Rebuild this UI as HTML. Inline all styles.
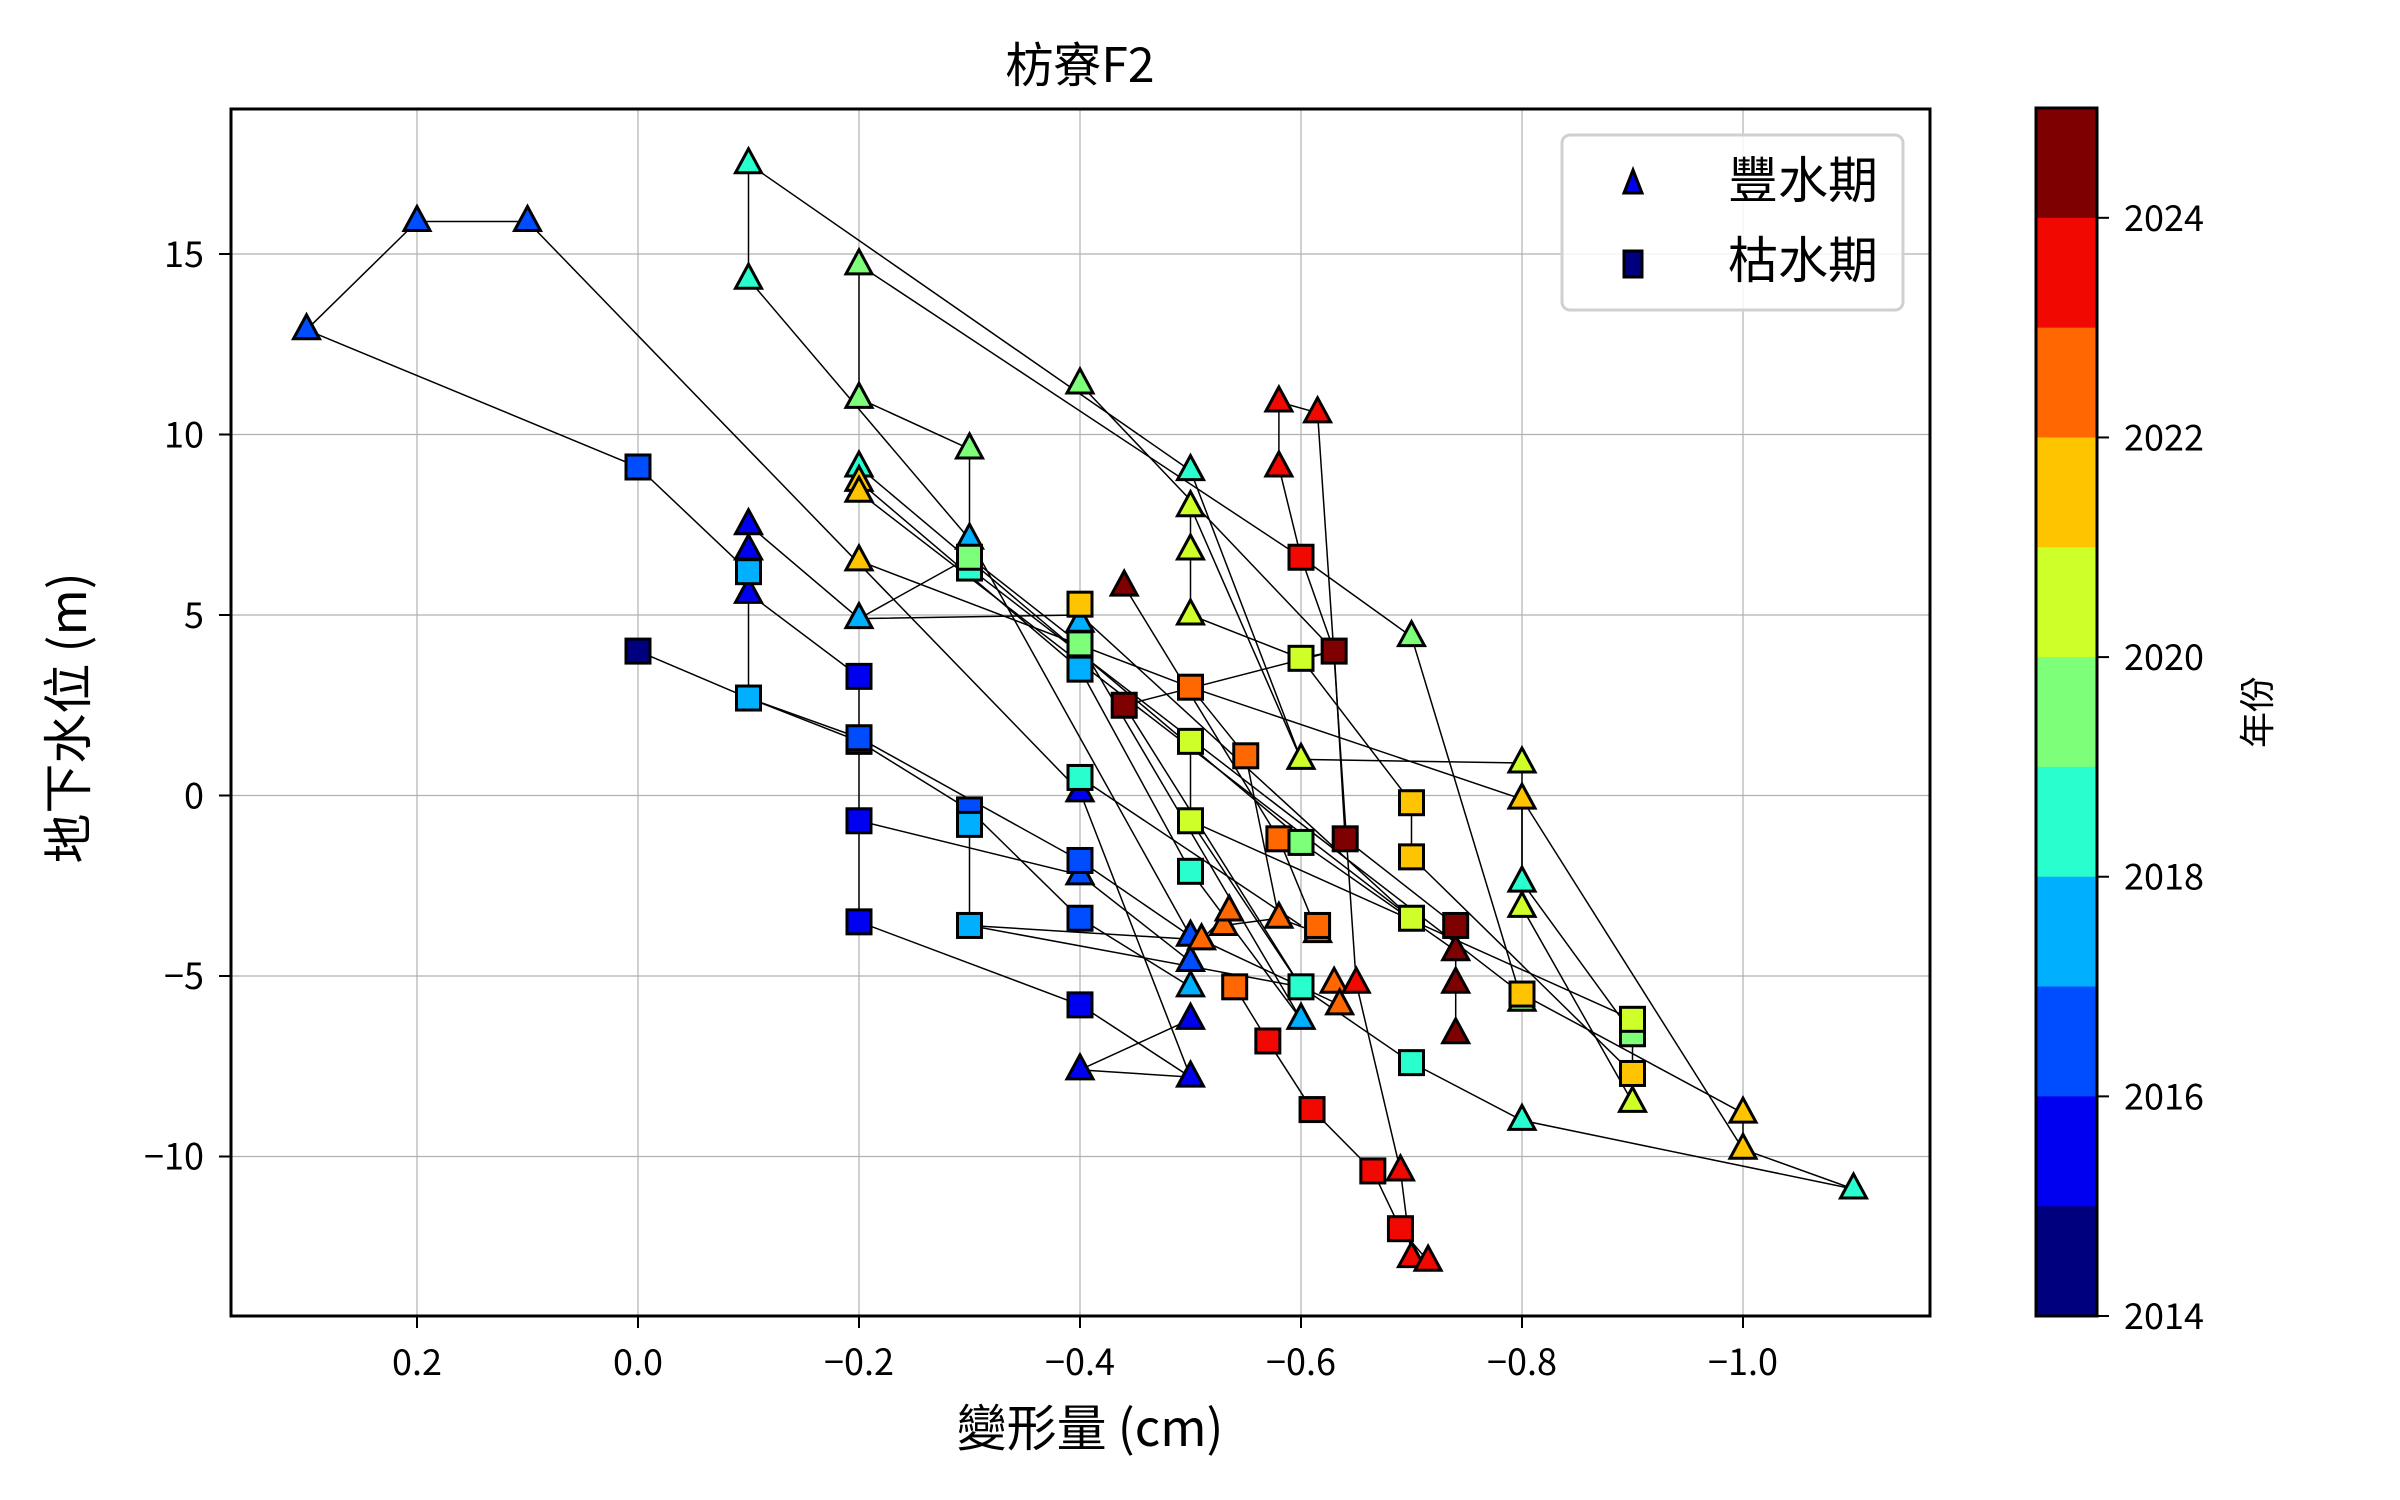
<!DOCTYPE html>
<html><head><meta charset="utf-8">
<style>
html,body{margin:0;padding:0;background:#fff;}
svg{display:block;}
text{font-family:"Noto Sans CJK TC","Noto Sans CJK SC","Liberation Sans",sans-serif;fill:#000;}
</style></head>
<body>
<svg id="s" width="2400" height="1500" viewBox="0 0 2400 1500" xmlns="http://www.w3.org/2000/svg">
<rect width="2400" height="1500" fill="#fff"/>
<g id="grid"></g>
<g id="lines" stroke="#000" stroke-width="1.5" fill="none"></g>
<g id="pts" stroke="#000" stroke-width="3"></g>
<rect x="231" y="109" width="1699" height="1207" fill="none" stroke="#000" stroke-width="3"/>
<g id="ticks"></g>
<text x="1080" y="82" font-size="48" text-anchor="middle">枋寮F2</text>
<text x="1090" y="1446" font-size="50" text-anchor="middle">變形量 (cm)</text>
<text transform="translate(86,718) rotate(-90)" font-size="50" text-anchor="middle">地下水位 (m)</text>
<rect x="1562" y="135" width="341" height="175" rx="8" fill="#fff" fill-opacity="0.85" stroke="#d0d0d0" stroke-width="3"/>
<polygon points="1633,170 1624,193 1642,193" fill="#0000f1" stroke="#000" stroke-width="3"/>
<rect x="1624" y="251" width="18" height="26" fill="#00007f" stroke="#000" stroke-width="3"/>
<text x="1728" y="198" font-size="50">豐水期</text>
<text x="1728" y="278" font-size="50">枯水期</text>
<g id="cbar"></g>
<text transform="translate(2270,712) rotate(-90)" font-size="36" text-anchor="middle">年份</text>
</svg>
<script>
var NS="http://www.w3.org/2000/svg";
function el(p,t,a){var e=document.createElementNS(NS,t);for(var k in a)e.setAttribute(k,a[k]);document.getElementById(p).appendChild(e);return e;}
function X(x){return 638-1105*x;}
function Y(y){return 795.5-36.1*y;}
var C={2014:"#00007f",2015:"#0000f1",2016:"#004cff",2017:"#00b0ff",2018:"#29ffce",2019:"#7dff7a",2020:"#ceff29",2021:"#ffc400",2022:"#ff6800",2023:"#f10800",2024:"#7f0000"};
[0.2,0,-0.2,-0.4,-0.6,-0.8,-1.0].forEach(function(v){
 var x=X(v);
 el("grid","line",{x1:x,x2:x,y1:109,y2:1316,stroke:"#b0b0b0","stroke-width":1.2});
 el("ticks","line",{x1:x,x2:x,y1:1316,y2:1328,stroke:"#000","stroke-width":2});
 var t=el("ticks","text",{x:x,y:1375,"font-size":36,"text-anchor":"middle"});
 t.textContent=(v>0?"":v<0?"\u2212":"")+Math.abs(v).toFixed(1);
});
[15,10,5,0,-5,-10].forEach(function(v){
 var y=Y(v);
 el("grid","line",{x1:231,x2:1930,y1:y,y2:y,stroke:"#b0b0b0","stroke-width":1.2});
 el("ticks","line",{x1:219,x2:231,y1:y,y2:y,stroke:"#000","stroke-width":2});
 var t=el("ticks","text",{x:204,y:y+13,"font-size":36,"text-anchor":"end"});
 t.textContent=(v<0?"\u2212":"")+Math.abs(v);
});
var yrs=[2024,2023,2022,2021,2020,2019,2018,2017,2016,2015,2014];
var h=(1316-108)/11;
yrs.forEach(function(yr,i){el("cbar","rect",{x:2036,y:108+i*h,width:61,height:h+0.5,fill:C[yr]});});
el("cbar","rect",{x:2036,y:108,width:61,height:1208,fill:"none",stroke:"#000","stroke-width":3});
[2024,2022,2020,2018,2016,2014].forEach(function(yr){
 var y=1316-(yr-2014)*h;
 el("cbar","line",{x1:2097,x2:2109,y1:y,y2:y,stroke:"#000","stroke-width":2});
 var t=el("cbar","text",{x:2124,y:y+13,"font-size":36});t.textContent=yr;
});
var L=[
[[0.3,12.9],[0.2,15.9],[0.1,15.9],[-0.4,0.1],[-0.5,-7.8]],
[[0.3,12.9],[0,9.1],[-0.1,6.2]],
[[-0.1,7.5],[-0.2,4.9],[-0.4,5.0],[-0.7,-3.4]],
[[-0.2,4.9],[-0.3,6.6]],
[[-0.1,5.6],[-0.2,3.3],[-0.2,-3.5],[-0.4,-5.8],[-0.5,-7.8],[-0.4,-7.6],[-0.5,-6.2]],
[[0,4.0],[-0.1,2.7],[-0.2,1.6],[-0.4,-1.8],[-0.5,-3.9]],
[[-0.1,2.7],[-0.2,1.5],[-0.3,-0.4],[-0.4,-3.4],[-0.5,-5.3]],
[[-0.1,6.2],[-0.1,2.7]],[[-0.1,7.5],[-0.1,5.6]],
[[-0.3,-0.4],[-0.3,-3.6],[-0.6,-5.3],[-0.7,-7.4],[-0.8,-9.0],[-1.1,-10.9]],
[[-0.2,-0.7],[-0.4,-2.2],[-0.5,-4.6]],
[[-0.1,17.5],[-0.1,14.3],[-0.3,7.1],[-0.5,-3.9]],
[[-0.1,17.5],[-0.5,9.0],[-0.6,1.0],[-0.8,0.9],[-0.8,-2.4],[-0.9,-6.6]],
[[-0.2,14.7],[-0.2,11.0],[-0.3,9.6],[-0.3,6.6],[-0.4,4.2],[-0.6,-6.2]],
[[-0.2,14.7],[-0.6,6.6],[-0.7,4.4],[-0.8,-5.7]],
[[-0.4,11.4],[-0.63,4.0],[-0.64,-1.2],[-0.74,-3.6],[-0.74,-6.6]],
[[-0.5,8.0],[-0.5,5.0],[-0.6,3.8],[-0.63,4.0]],
[[-0.5,8.0],[-0.6,1.0]],
[[-0.6,3.8],[-0.7,-0.2],[-0.7,-1.7],[-0.9,-7.7],[-0.9,-6.2]],
[[-0.58,10.9],[-0.615,10.6],[-0.65,-5.2],[-0.69,-10.4],[-0.7,-12.8],[-0.715,-12.9],[-0.69,-12.0]],
[[-0.58,10.9],[-0.58,9.1],[-0.6,6.6],[-0.63,4.0]],
[[-0.44,5.8],[-0.58,-1.2],[-0.615,-3.8]],
[[-0.44,2.5],[-0.63,4.0]],[[-0.44,2.5],[-0.6,-5.3]],
[[-0.5,3.0],[-0.8,-0.1],[-0.8,-3.1],[-0.9,-8.5]],
[[-0.2,6.5],[-0.5,3.0],[-0.55,1.1],[-0.58,-3.4]],
[[-0.8,-0.1],[-1.0,-9.8]],
[[-0.5,1.5],[-0.5,-0.7],[-0.9,-6.2]],
[[-0.5,-0.7],[-0.6,-5.3]],
[[-0.53,-3.6],[-0.58,-3.4],[-0.615,-3.8]],[[-0.51,-4.0],[-0.535,-3.2]],
[[-0.54,-5.3],[-0.57,-6.8],[-0.61,-8.7],[-0.665,-10.4],[-0.69,-12.0]],
[[-0.8,-5.5],[-1.0,-8.8],[-1.0,-9.8],[-1.1,-10.9]],
[[-0.6,-1.3],[-0.74,-4.3]],[[-0.2,8.7],[-0.4,3.5],[-0.5,-2.1],[-0.6,-6.2]],
[[-0.4,0.5],[-0.6,-3.6]],[[-0.2,9.1],[-0.6,-1.2]],[[-0.2,8.4],[-0.7,-3.4]],
[[-0.3,-3.6],[-0.51,-4.0],[-0.635,-5.8]],[[-0.3,6.3],[-0.8,-5.5]]
];
L.forEach(function(c){el("lines","polyline",{points:c.map(function(p){return X(p[0])+","+Y(p[1]);}).join(" ")});});
var P=[
[0.3,12.9,2016,"T"],[0.2,15.9,2016,"T"],[0.1,15.9,2016,"T"],[-0.1,17.5,2018,"T"],[-0.1,14.3,2018,"T"],
[-0.2,14.7,2019,"T"],[-0.2,11.0,2019,"T"],[-0.2,9.1,2018,"T"],[-0.2,8.7,2021,"T"],[-0.2,8.4,2021,"T"],
[-0.3,9.6,2019,"T"],[-0.1,7.5,2015,"T"],[-0.1,6.8,2015,"T"],[-0.1,5.6,2015,"T"],[-0.2,6.5,2021,"T"],
[-0.3,7.1,2017,"T"],[-0.2,4.9,2017,"T"],[-0.4,11.4,2019,"T"],[-0.5,9.0,2018,"T"],[-0.5,8.0,2020,"T"],
[-0.5,6.8,2020,"T"],[-0.5,5.0,2020,"T"],[-0.58,10.9,2023,"T"],[-0.615,10.6,2023,"T"],[-0.58,9.1,2023,"T"],
[-0.44,5.8,2024,"T"],[-0.4,4.8,2017,"T"],[-0.7,4.4,2019,"T"],[-0.6,1.0,2020,"T"],[-0.8,0.9,2020,"T"],
[-0.8,-0.1,2021,"T"],[-0.4,0.1,2015,"T"],[-0.4,-2.2,2016,"T"],[-0.8,-2.4,2018,"T"],[-0.8,-3.1,2020,"T"],
[-0.5,-3.9,2016,"T"],[-0.5,-4.6,2016,"T"],[-0.5,-5.3,2017,"T"],[-0.5,-6.2,2015,"T"],[-0.4,-7.6,2015,"T"],
[-0.5,-7.8,2015,"T"],[-0.51,-4.0,2022,"T"],[-0.53,-3.6,2022,"T"],[-0.535,-3.2,2022,"T"],[-0.58,-3.4,2022,"T"],
[-0.615,-3.8,2022,"T"],[-0.63,-5.2,2022,"T"],[-0.65,-5.2,2023,"T"],[-0.635,-5.8,2022,"T"],[-0.6,-6.2,2017,"T"],
[-0.74,-4.3,2024,"T"],[-0.74,-5.2,2024,"T"],[-0.74,-6.6,2024,"T"],[-0.8,-5.7,2019,"T"],[-0.9,-8.5,2020,"T"],
[-0.8,-9.0,2018,"T"],[-1.0,-8.8,2021,"T"],[-1.0,-9.8,2021,"T"],[-1.1,-10.9,2018,"T"],[-0.69,-10.4,2023,"T"],
[-0.7,-12.8,2023,"T"],[-0.715,-12.9,2023,"T"],
[0,9.1,2016,"S"],[0,4.0,2014,"S"],[-0.1,6.2,2017,"S"],[-0.1,2.7,2017,"S"],[-0.2,3.3,2015,"S"],
[-0.2,1.5,2015,"S"],[-0.2,1.6,2016,"S"],[-0.2,-0.7,2015,"S"],[-0.2,-3.5,2015,"S"],[-0.3,6.3,2018,"S"],
[-0.3,6.6,2019,"S"],[-0.3,-0.4,2016,"S"],[-0.3,-0.8,2017,"S"],[-0.3,-3.6,2017,"S"],[-0.4,5.3,2021,"S"],
[-0.4,3.5,2017,"S"],[-0.4,4.2,2019,"S"],[-0.4,0.5,2018,"S"],[-0.4,-1.8,2016,"S"],[-0.4,-3.4,2016,"S"],
[-0.4,-5.8,2015,"S"],[-0.44,2.5,2024,"S"],[-0.5,3.0,2022,"S"],[-0.5,1.5,2020,"S"],[-0.5,-0.7,2020,"S"],
[-0.5,-2.1,2018,"S"],[-0.55,1.1,2022,"S"],[-0.6,6.6,2023,"S"],[-0.6,3.8,2020,"S"],[-0.63,4.0,2024,"S"],
[-0.58,-1.2,2022,"S"],[-0.6,-1.3,2019,"S"],[-0.64,-1.2,2024,"S"],[-0.7,-0.2,2021,"S"],[-0.7,-1.7,2021,"S"],
[-0.7,-3.4,2020,"S"],[-0.74,-3.6,2024,"S"],[-0.615,-3.6,2022,"S"],[-0.6,-5.3,2018,"S"],[-0.54,-5.3,2022,"S"],
[-0.57,-6.8,2023,"S"],[-0.61,-8.7,2023,"S"],[-0.7,-7.4,2018,"S"],[-0.665,-10.4,2023,"S"],[-0.69,-12.0,2023,"S"],
[-0.8,-5.5,2021,"S"],[-0.9,-6.6,2019,"S"],[-0.9,-6.2,2020,"S"],[-0.9,-7.7,2021,"S"]
];
P.forEach(function(p){
 var x=X(p[0]),y=Y(p[1]),c=C[p[2]];
 if(p[3]=="T") el("pts","polygon",{points:x+","+(y-15)+" "+(x-13)+","+(y+9)+" "+(x+13)+","+(y+9),fill:c});
 else el("pts","rect",{x:x-12,y:y-12,width:24,height:24,fill:c});
});
</script>
</body></html>
